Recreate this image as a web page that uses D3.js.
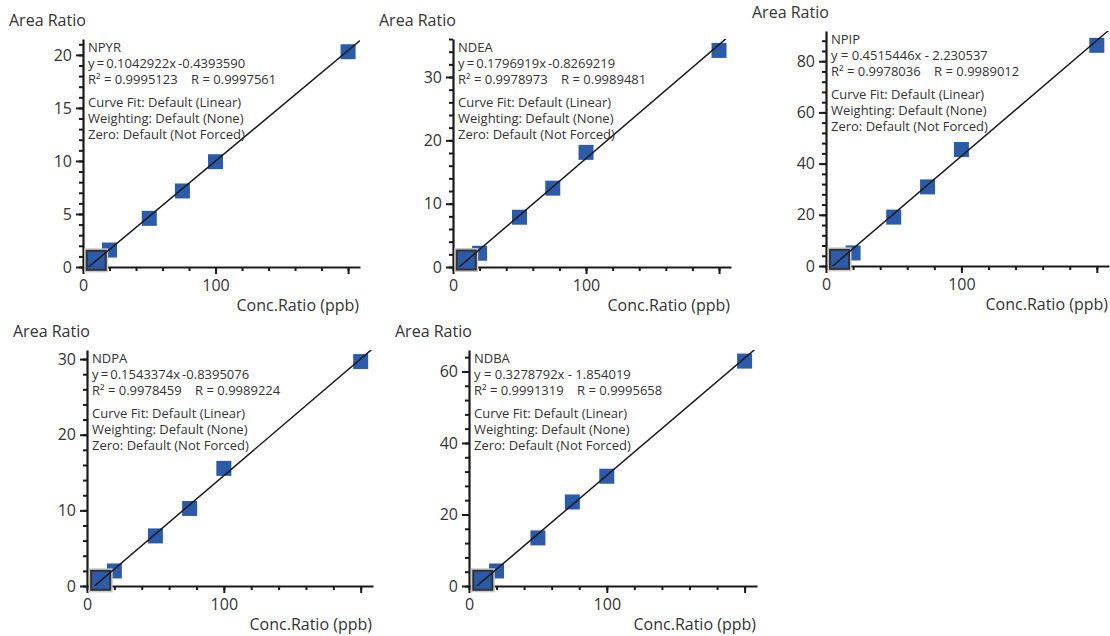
<!DOCTYPE html>
<html>
<head>
<meta charset="utf-8">
<script src="https://cdn.jsdelivr.net/npm/d3@7"></script>
<style>
  body { margin: 0; background: #fff; }
  svg { display: block; }
  text { font-family: "Open Sans", "Noto Sans", sans-serif; fill: #333; }
</style>
</head>
<body>
<div id="chart"></div>
<script>
// Calibration data
let compounds = ["NPYR", "NDEA", "NPIP", "NDPA", "NDBA"];
let concLevels = [10, 20, 50, 75, 100, 200];

let npyrArea = [0.63, 1.6, 4.59, 7.17, 9.93, 20.3];
let ndeaArea = [1.1, 2.17, 7.86, 12.45, 18.1, 34.2];
let npipArea = [2.6, 5.1, 19.1, 30.9, 45.5, 86.2];
let ndpaArea = [0.75, 1.99, 6.62, 10.25, 15.55, 29.67];
let ndbaArea = [1.6, 4.2, 13.45, 23.5, 30.7, 62.9];

let slopes = [0.1042922, 0.1796919, 0.4515446, 0.1543374, 0.3278792];
let intercepts = [-0.4393590, -0.8269219, -2.230537, -0.8395076, -1.854019];
let eqTexts = [
  "y\u2009=\u20090.1042922x\u2009-0.4393590",
  "y\u2009=\u20090.1796919x\u2009-0.8269219",
  "y = 0.4515446x - 2.230537",
  "y\u2009=\u20090.1543374x\u2009-0.8395076",
  "y = 0.3278792x - 1.854019"
];
let r2Texts = ["0.9995123", "0.9978973", "0.9978036", "0.9978459", "0.9991319"];
let rTexts = ["0.9997561", "0.9989481", "0.9989012", "0.9989224", "0.9995658"];
let fitNotes = ["Curve Fit: Default (Linear)", "Weighting: Default (None)", "Zero: Default (Not Forced)"];

let xMax = 209;
let yMaxes = [21.5, 36, 91.8, 31.2, 66];
let yMajorStep = [5, 10, 20, 10, 20];
let yMinorStep = [1, 2, 4, 2, 4];
let xMajorTicks = [0, 100, 200];
let xMinorStep = 20;

let areas = [npyrArea, ndeaArea, npipArea, ndpaArea, ndbaArea];

// Layout: plot frames in pixels
let w = 1110, h = 636;
let frames = [
  { left: 83,  right: 360,  top: 39,  bottom: 267 },
  { left: 453, right: 731,  top: 39,  bottom: 267 },
  { left: 826, right: 1109, top: 31,  bottom: 266 },
  { left: 87,  right: 373,  top: 350, bottom: 586 },
  { left: 469, right: 757,  top: 350, bottom: 586 }
];

let blue = "#2b5ba9";

let svg = d3.select("#chart")
  .append("svg")
  .attr("width", w)
  .attr("height", h)
  .attr("viewBox", [0, 0, w, h]);

compounds.forEach((name, i) => drawPanel(i));

function drawPanel(i) {
  let f = frames[i];
  let x = d3.scaleLinear().domain([0, xMax]).range([f.left, f.right]);
  let y = d3.scaleLinear().domain([0, yMaxes[i]]).range([f.bottom, f.top]);
  let g = svg.append("g");

  let clipId = "clip" + i;
  g.append("clipPath").attr("id", clipId)
    .append("rect")
    .attr("x", f.left).attr("y", f.top)
    .attr("width", f.right - f.left).attr("height", f.bottom - f.top);

  // y axis: minor, then major
  let yMinor = d3.range(0, yMaxes[i] + 1e-9, yMinorStep[i]);
  let yMajor = d3.range(0, yMaxes[i] + 1e-9, yMajorStep[i]);
  g.append("g")
    .attr("transform", `translate(${f.left},0)`)
    .call(d3.axisLeft(y).tickValues(yMinor).tickSize(4).tickSizeOuter(0).tickFormat(""))
    .call(a => a.select(".domain").remove());
  g.append("g")
    .attr("transform", `translate(${f.left},0)`)
    .call(d3.axisLeft(y).tickValues(yMajor).tickSize(7).tickSizeOuter(0).tickPadding(4));

  // x axis
  let xMinor = d3.range(0, xMax, xMinorStep);
  g.append("g")
    .attr("transform", `translate(0,${f.bottom})`)
    .call(d3.axisBottom(x).tickValues(xMinor).tickSize(4).tickSizeOuter(0).tickFormat(""))
    .call(a => a.select(".domain").remove());
  g.append("g")
    .attr("transform", `translate(0,${f.bottom})`)
    .call(d3.axisBottom(x).tickValues(xMajorTicks).tickSize(7).tickSizeOuter(0).tickPadding(6)
      .tickFormat(d => d < 150 ? d : ""));

  g.selectAll(".domain").attr("stroke", "#1a1a1a").attr("stroke-width", 2.2);
  g.selectAll(".tick line").attr("stroke", "#1a1a1a").attr("stroke-width", 2);
  g.selectAll(".tick text").attr("font-size", 16).attr("fill", "#333")
    .style("font-family", "'Open Sans', sans-serif");

  // axis titles
  g.append("text")
    .attr("x", f.left - 74)
    .attr("y", f.top - 13)
    .attr("font-size", 16)
    .text("Area Ratio");
  g.append("text")
    .attr("x", f.right - 1)
    .attr("y", f.bottom + 44)
    .attr("text-anchor", "end")
    .attr("font-size", 16)
    .text("Conc.Ratio (ppb)");

  // points
  let pts = concLevels.map((c, k) => ({ c: c, a: areas[i][k] }));
  let s = 15;
  g.append("g")
    .selectAll("rect")
    .data(pts.slice(1))
    .join("rect")
    .attr("x", d => x(d.c) - s / 2)
    .attr("y", d => y(d.a) - s / 2)
    .attr("width", s)
    .attr("height", s)
    .attr("fill", blue);

  // selected (lowest) level, big square
  let b = 19, p0 = pts[0];
  g.append("rect")
    .attr("x", x(p0.c) - b / 2).attr("y", y(p0.a) - b / 2)
    .attr("width", b).attr("height", b)
    .attr("fill", "none").attr("stroke", "#c8c8c8").attr("stroke-width", 5);
  g.append("rect")
    .attr("x", x(p0.c) - b / 2).attr("y", y(p0.a) - b / 2)
    .attr("width", b).attr("height", b)
    .attr("fill", blue).attr("stroke", "#333").attr("stroke-width", 2);

  // fit line from y = 0 to right edge
  let m = slopes[i], c0 = intercepts[i];
  let xStart = -c0 / m;
  let line = d3.line().x(d => x(d)).y(d => y(m * d + c0));
  g.append("path")
    .datum([xStart, xMax])
    .attr("clip-path", `url(#${clipId})`)
    .attr("d", line)
    .attr("fill", "none")
    .attr("stroke", "#1a1a1a")
    .attr("stroke-width", 1.5);

  // annotation
  let tx = f.left + 5, ty = f.top + 13;
  let lines = [
    { t: compounds[i], dy: 0 },
    { t: eqTexts[i], dy: 15.8 },
    { t: "R\u00b2 = " + r2Texts[i] + "    R = " + rTexts[i], dy: 31.6 },
    { t: fitNotes[0], dy: 55.2 },
    { t: fitNotes[1], dy: 71 },
    { t: fitNotes[2], dy: 86.8 }
  ];
  g.append("g")
    .selectAll("text")
    .data(lines)
    .join("text")
    .attr("x", tx)
    .attr("y", d => ty + d.dy)
    .attr("font-size", 13)
    .style("white-space", "pre")
    .text(d => d.t);
}
</script>
</body>
</html>
